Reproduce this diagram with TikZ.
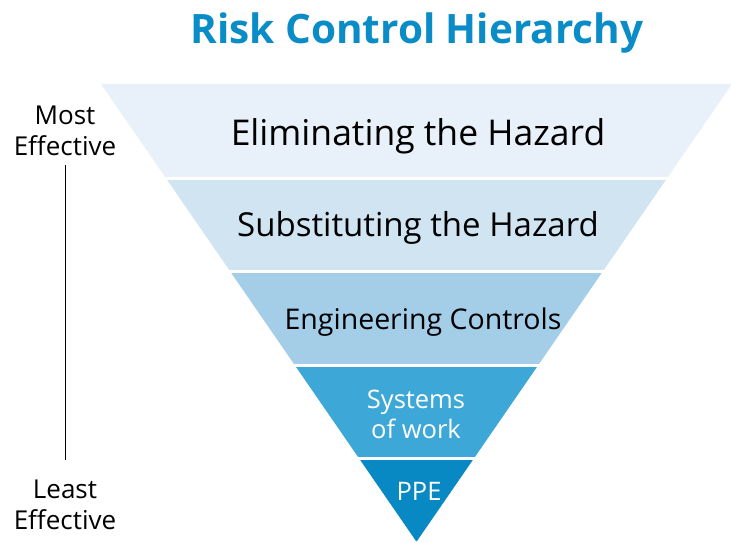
\documentclass[tikz,border=0pt]{standalone}
\usepackage{fontspec}
\setmainfont{Open Sans}
\definecolor{titleblue}{RGB}{10,140,198}
\definecolor{bandA}{RGB}{232,241,249}
\definecolor{bandB}{RGB}{208,228,242}
\definecolor{bandC}{RGB}{164,205,232}
\definecolor{bandD}{RGB}{61,168,216}
\definecolor{bandE}{RGB}{8,137,196}
\begin{document}
\begin{tikzpicture}[x=1pt,y=-1pt,
  bandtext/.style={font=\fontsize{33}{36}\selectfont,text=black},
  smalltext/.style={font=\fontsize{25.5}{30}\selectfont,align=center},
  sidetext/.style={font=\fontsize{26}{31}\selectfont,align=center}]
\useasboundingbox (0,0) rectangle (731,543);
% bands of the funnel, tip at (417,541)
\foreach \t/\b/\c in {84/178/bandA,178/271/bandB,271/365/bandC,365/458/bandD,458/541/bandE}
  \fill[\c] ({416-0.6893*(541-\t)},\t) -- ({417+0.6893*(541-\t)},\t)
    -- ({417+0.6893*(541-\b)},\b) -- ({416-0.6893*(541-\b)},\b) -- cycle;
\foreach \y in {178,271,365,458}
  \draw[white,line width=3pt] ({416-0.6893*(541-\y)-2},\y) -- ({417+0.6893*(541-\y)+2},\y);
\node[font=\fontsize{40.5}{44}\bfseries\selectfont,text=titleblue] (title) at (417,33) {Risk Control Hierarchy};
\node[bandtext,font=\fontsize{35.5}{40}\selectfont] (elim) at (418,136) {Eliminating the Hazard};
\node[bandtext] (subst) at (418,228) {Substituting the Hazard};
\node[smalltext,font=\fontsize{28.5}{32}\selectfont] (eng) at (423,322) {Engineering Controls};
\node[smalltext,text=white] (sow) at (416,414) {Systems\\of work};
\node[smalltext,text=white] (ppe) at (419,491) {PPE};
\node[sidetext] (most) at (65,131) {Most\\Effective};
\node[sidetext] (least) at (65,505) {Least\\Effective};
\draw[line width=1pt] ([yshift=-6pt]most.south) -- ([yshift=17pt]least.north);
\end{tikzpicture}
\end{document}
